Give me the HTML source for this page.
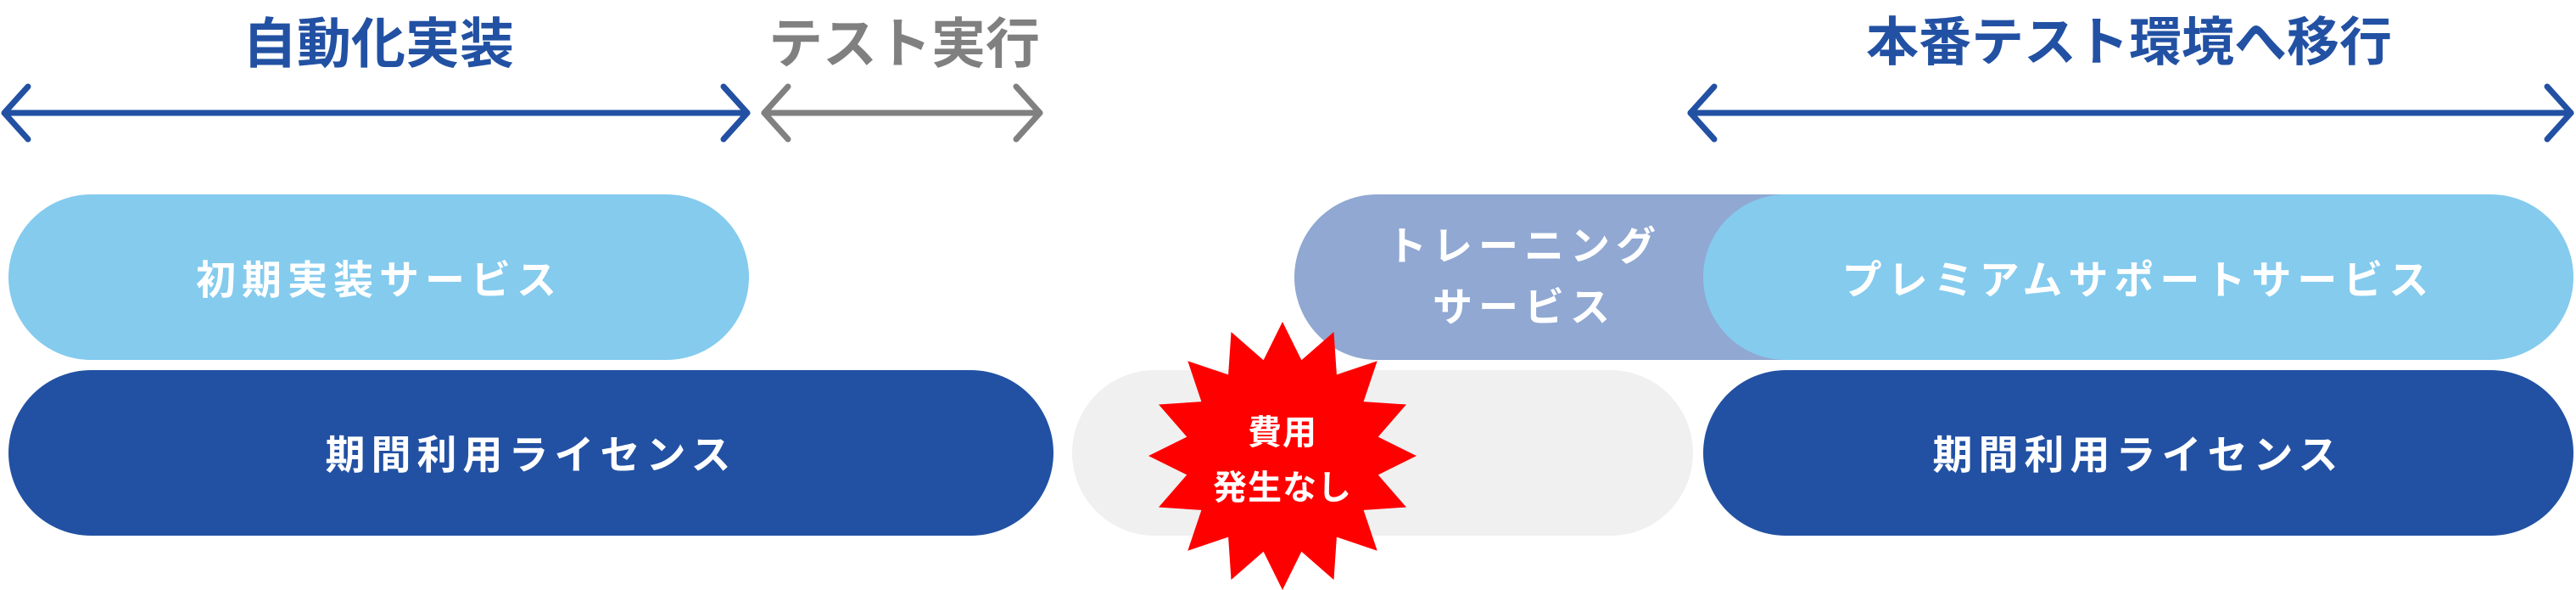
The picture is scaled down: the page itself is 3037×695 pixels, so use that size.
<!DOCTYPE html>
<html><head><meta charset="utf-8"><style>
html,body{margin:0;padding:0;background:#fff;}
body{width:3037px;height:695px;position:relative;overflow:hidden;font-family:"Liberation Sans","Noto Sans CJK JP",sans-serif;font-weight:700;}
.t{position:absolute;white-space:nowrap;text-align:center;line-height:1;}
.pill{position:absolute;border-radius:98px;}
.pt{position:absolute;color:#fff;font-size:47px;letter-spacing:7px;white-space:nowrap;transform:translate(-50%,-50%);line-height:1;}
</style></head><body>
<div class="t" style="left:285px;top:20px;width:322px;font-size:64px;color:#2251a3;">自動化実装</div>
<div class="t" style="left:900px;top:20px;width:332px;font-size:64px;color:#808080;">テスト実行</div>
<div class="t" style="left:2170px;top:20px;width:680px;font-size:62px;color:#2251a3;">本番テスト環境へ移行</div>
<svg width="3037" height="695" style="position:absolute;left:0;top:0" fill="none" stroke-linecap="round" stroke-linejoin="round">
<g stroke="#2251a3" stroke-width="7">
<line x1="6" y1="133" x2="881" y2="133"/><polyline points="33,102 5,133 33,164"/><polyline points="853,102 881,133 853,164"/>
<line x1="1993" y1="133" x2="3031" y2="133"/><polyline points="2021,102 1993,133 2021,164"/><polyline points="3003,102 3031,133 3003,164"/>
</g>
<g stroke="#808080" stroke-width="7">
<line x1="901" y1="133" x2="1226" y2="133"/><polyline points="929,102 901,133 929,164"/><polyline points="1198,102 1226,133 1198,164"/>
</g>
</svg>
<div class="pill" style="left:10px;top:229px;width:873px;height:195px;background:#84cbee;"></div>
<div class="pt" style="left:447px;top:330px;">初期実装サービス</div>
<div class="pill" style="left:10px;top:436px;width:1232px;height:195px;background:#2251a3;"></div>
<div class="pt" style="left:626px;top:536px;">期間利用ライセンス</div>
<div class="pill" style="left:1264px;top:436px;width:732px;height:195px;background:#f0f0f0;"></div>
<div class="pill" style="left:1526px;top:229px;width:700px;height:195px;background:#90a8d2;border-radius:98px 0 0 98px;"></div>
<div class="pt" style="left:1797px;top:290px;">トレーニング</div>
<div class="pt" style="left:1797px;top:362px;">サービス</div>
<div class="pill" style="left:2008px;top:229px;width:1026px;height:195px;background:#84cbee;"></div>
<div class="pt" style="left:2521px;top:330px;">プレミアムサポートサービス</div>
<div class="pill" style="left:2008px;top:436px;width:1026px;height:195px;background:#2251a3;"></div>
<div class="pt" style="left:2521px;top:536px;">期間利用ライセンス</div>
<svg width="3037" height="695" style="position:absolute;left:0;top:0">
<polygon id="star" fill="#ff0000"/>
</svg>
<div class="pt" style="left:1512px;top:510px;font-size:40px;letter-spacing:1px;">費用</div>
<div class="pt" style="left:1512px;top:575px;font-size:40px;letter-spacing:1px;">発生なし</div>
<script>
(function(){var cx=1512,cy=537,n=16,ro=158,ri=115,p=[];
for(var i=0;i<2*n;i++){var a=-Math.PI/2+i*Math.PI/n,r=i%2?ri:ro;p.push((cx+r*Math.cos(a)).toFixed(1)+','+(cy+r*Math.sin(a)).toFixed(1));}
document.getElementById('star').setAttribute('points',p.join(' '));})();
</script>
</body></html>
